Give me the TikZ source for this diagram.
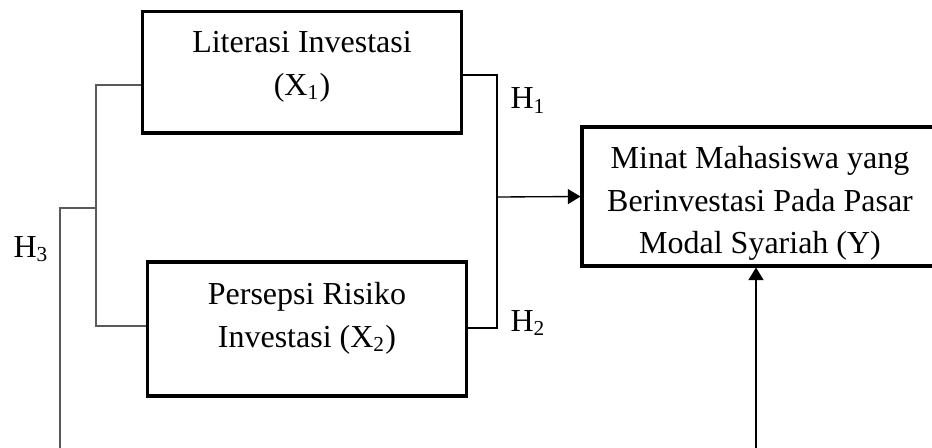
\documentclass[tikz,border=0pt]{standalone}
\usepackage{fontspec}
\setmainfont{Liberation Serif}
\usetikzlibrary{positioning}
\usetikzlibrary{arrows.meta}

\tikzset{
  varbox/.style = {draw, line width = 1.15pt, inner sep = 0pt},
  vartext/.style = {align = center, inner sep = 0pt, font = \fontsize{12}{16}\selectfont},
  hyp/.style = {inner sep = 0pt, anchor = base west, font = \fontsize{12}{14}\selectfont},
  link/.style = {line width = 0.5pt},
  glink/.style = {line width = 0.6pt, black!65},
  arr/.style = {-{Triangle[length = 4.7pt, width = 5.6pt]}}
}

\begin{document}
\begin{tikzpicture}[x = 0.375pt, y = -0.375pt]
\useasboundingbox (0, 0) rectangle (932, 448);
\clip (0, 0) rectangle (932, 448);
% variable boxes
\node[varbox, minimum width = 119.3pt, minimum height = 45.4pt] (lit) at (302, 72.5) {};
\node[varbox, minimum width = 119.3pt, minimum height = 50.25pt] (risk) at (307, 329) {};
\node[varbox, minimum width = 133.5pt, minimum height = 52.1pt] (minat) at (760, 196.5) {};
\node[vartext] (lit-t) at ([yshift = 2.25pt]lit.center) {Literasi Investasi\\(X\textsubscript{1})};
\node[vartext] (risk-t) at ([yshift = 4.1pt]risk.center) {Persepsi Risiko\\Investasi (X\textsubscript{2})};
\node[vartext] (minat-t) at ([yshift = -2.6pt]minat.center) {Minat Mahasiswa yang\\Berinvestasi Pada Pasar\\Modal Syariah (Y)};
% junctions
\coordinate (jl) at (96, 208);
\coordinate (h3) at (60, 208);
\coordinate (h3end) at (60, 460);
\coordinate (jr) at (497, 197);
\coordinate (yend) at (756, 460);
% connectors
\draw[glink] ([yshift = -4.7pt]lit.west) -| (jl) |- ([yshift = 1.1pt]risk.west);
\draw[glink] (jl) -- (h3) -- (h3end);
\draw[link] ([yshift = -0.9pt]lit.east) -| (jr) |- ([yshift = 0.4pt]risk.east);
\draw[link, arr] (jr) -- (minat.west);
\draw[link, arr] (yend) -- (yend |- minat.south);
% hypotheses
\node[hyp] (h1) at (510, 109) {H\textsubscript{1}};
\node[hyp] (h2) at (510, 331) {H\textsubscript{2}};
\node[hyp] (h3l) at (13, 257) {H\textsubscript{3}};
\end{tikzpicture}
\end{document}
